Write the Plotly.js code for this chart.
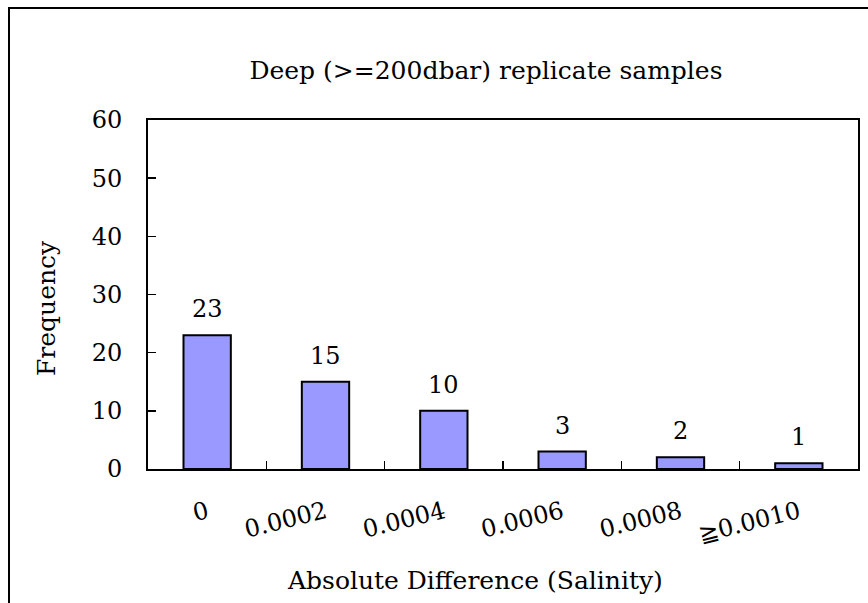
<!DOCTYPE html>
<html>
<head>
<meta charset="utf-8">
<script src="https://cdn.plot.ly/plotly-3.0.1.min.js"></script>
<style>
  html, body { margin: 0; padding: 0; background: #fff; }
  #wrap { position: relative; width: 868px; height: 603px; overflow: hidden; }
  #chart { position: absolute; left: 0; top: 0; width: 868px; height: 603px; }
  #frame { position: absolute; left: 8px; top: 7px; width: 900px; height: 700px;
           border-left: 2px solid #000; border-top: 2px solid #000; pointer-events: none; }
</style>
</head>
<body>
<div id="wrap">
  <div id="chart"></div>
  <div id="frame"></div>
</div>
<script>
// Data
const categories = ["0", "0.0002", "0.0004", "0.0006", "0.0008", "\u22670.0010"];
const frequency = [23, 15, 10, 3, 2, 1];
const yTicks = [0, 10, 20, 30, 40, 50, 60];

const chartTitle = "Deep (>=200dbar) replicate samples";
const xTitle = "Absolute Difference (Salinity)";
const yTitle = "Frequency";

const FONT = "'DejaVu Serif', serif";
const fontSize = 24;

const trace = {
  type: "bar",
  x: categories,
  y: frequency,
  width: 0.4,
  marker: { color: "#9999FF", line: { color: "#000000", width: 2 } },
  hoverinfo: "x+y"
};

// category axis: annotate by category index
const valueLabels = categories.map((c, i) => ({
  x: i, y: frequency[i], xref: "x", yref: "y",
  text: String(frequency[i]), showarrow: false,
  yanchor: "middle", yshift: 26,
  font: { family: FONT, size: fontSize, color: "#000" }
}));

const layout = {
  width: 868, height: 603,
  margin: { l: 148, r: 10, t: 120, b: 134 },
  paper_bgcolor: "#ffffff", plot_bgcolor: "#ffffff",
  showlegend: false,
  font: { family: FONT, size: fontSize, color: "#000" },
  title: {
    text: chartTitle,
    font: { family: FONT, size: 25, color: "#000" },
    x: 486 / 868, xanchor: "center", xref: "container",
    y: 1 - 70 / 603, yanchor: "middle", yref: "container"
  },
  xaxis: {
    type: "category",
    categoryorder: "array", categoryarray: categories,
    range: [-0.5, categories.length - 0.5],
    showline: true, mirror: true, linecolor: "#000", linewidth: 2,
    ticks: "inside", tickson: "boundaries", ticklen: 8, tickwidth: 1.5, tickcolor: "#000",
    tickangle: -14, ticklabelstandoff: 18,
    tickfont: { family: FONT, size: fontSize, color: "#000" },
    showgrid: false, zeroline: false, fixedrange: true
  },
  yaxis: {
    range: [0, 60],
    tickvals: yTicks, ticktext: yTicks.map(String),
    showline: true, mirror: true, linecolor: "#000", linewidth: 2,
    ticks: "inside", ticklen: 8, tickwidth: 1.5, tickcolor: "#000",
    ticklabelstandoff: 19,
    tickfont: { family: FONT, size: fontSize, color: "#000" },
    showgrid: false, zeroline: false, fixedrange: true
  },
  annotations: valueLabels.concat([
    {
      text: xTitle, showarrow: false, xref: "paper", yref: "paper",
      x: (475 - 148) / 710, y: (469 - 580) / 349, xanchor: "center", yanchor: "middle",
      font: { family: FONT, size: 25, color: "#000" }
    },
    {
      text: yTitle, showarrow: false, xref: "paper", yref: "paper", textangle: -90,
      x: (46 - 148) / 710, y: (469 - 308) / 349, xanchor: "center", yanchor: "middle",
      font: { family: FONT, size: 25, color: "#000" }
    }
  ])
};

Plotly.newPlot("chart", [trace], layout, { displayModeBar: false, staticPlot: true });
</script>
</body>
</html>
